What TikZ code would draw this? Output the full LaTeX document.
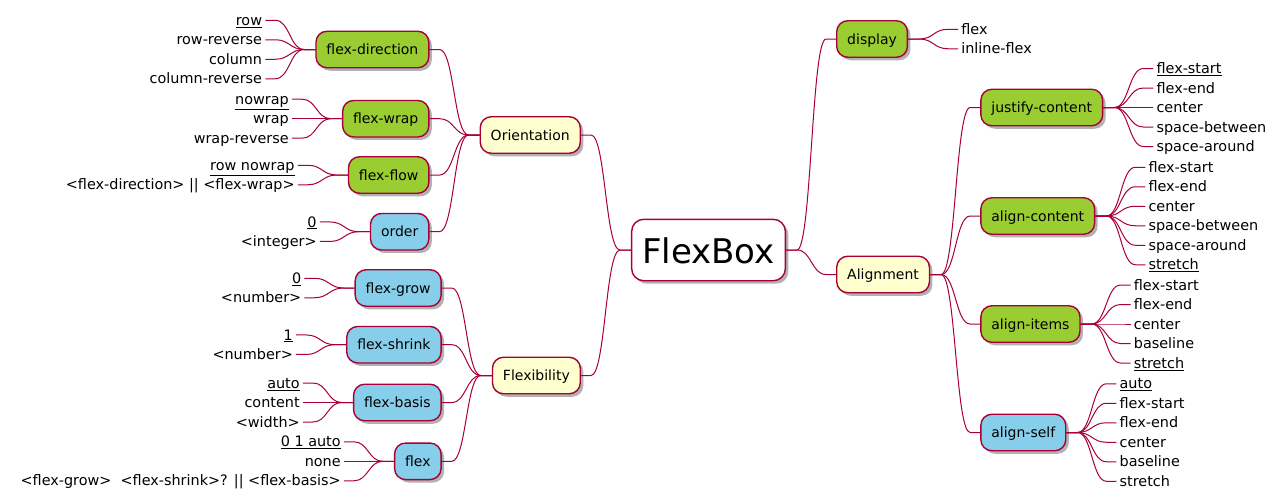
\documentclass[tikz,border=0pt]{standalone}
\usepackage{fontspec}
\setmainfont{DejaVu Sans}
\usetikzlibrary{calc,shadows}
\definecolor{lineRed}{HTML}{A80036}
\definecolor{noteYellow}{HTML}{FEFECE}
\definecolor{propGreen}{HTML}{9ACD32}
\definecolor{propBlue}{HTML}{87CEEB}
\tikzset{
  box/.style={draw=lineRed, line width=1.4pt, rounded corners=11pt, inner xsep=10.5pt, inner ysep=0pt,
    minimum height=36.5pt, text height=10.5pt, text depth=0pt, font=\fontsize{14}{16}\selectfont,
    drop shadow={shadow xshift=3pt, shadow yshift=-3pt, opacity=0.3, fill=black}},
  rootbox/.style={box, fill=white, rounded corners=12pt, minimum width=150pt, minimum height=61.4pt,
    text height=27pt, font=\fontsize{34}{40}\selectfont},
  grpbox/.style={box, fill=noteYellow},
  conbox/.style={box, fill=propGreen},
  itembox/.style={box, fill=propBlue},
  leaf/.style={inner xsep=3pt, inner ysep=0pt, text height=10.2pt, text depth=0pt, font=\fontsize{14.4}{16}\selectfont},
  link/.style={draw=lineRed, line width=1pt},
}
\def\gap{50}
\def\dy{19.5}
\newcommand\linkL[2]{\draw[link] (#1.west) -- ++(-11,0) .. controls +(-14.5,0) and +(14.5,0) .. ($(#2.east)+(10,0)$) -- (#2.east);}
\newcommand\linkR[2]{\draw[link] (#1.east) -- ++(11,0) .. controls +(14.5,0) and +(-14.5,0) .. ($(#2.west)+(-10,0)$) -- (#2.west);}
\newcommand\leavesL[3]{\foreach \txt [count=\i] in {#3}{
    \node[leaf, anchor=east] (#1-\i) at ($(#1.west)+(-\gap,{(\i-1-(#2-1)/2)*\dy})$) {\txt};
    \linkL{#1}{#1-\i}}}
\newcommand\leavesR[3]{\foreach \txt [count=\i] in {#3}{
    \node[leaf, anchor=west] (#1-\i) at ($(#1.east)+(\gap,{(\i-1-(#2-1)/2)*\dy})$) {\txt};
    \linkR{#1}{#1-\i}}}

\begin{document}
\begin{tikzpicture}[x=1pt,y=-1pt]
	%%%%% START %%%%%
	\useasboundingbox (0,0) rectangle (1275,499);
	
	\node[rootbox] (root) at (708.5,250) {FlexBox};
	
	%% right side
	\node[conbox, anchor=west] (display) at ($(root.east)+(\gap,-211)$) {display};
	\node[grpbox, anchor=west] (align) at ($(root.east)+(\gap,24.5)$) {Alignment};
	\node[conbox, anchor=west] (justify) at ($(align.east)+(\gap,-167)$) {justify-content};
	\node[conbox, anchor=west] (aligncontent) at ($(align.east)+(\gap,-58.5)$) {align-content};
	\node[conbox, anchor=west] (alignitems) at ($(align.east)+(\gap,49.5)$) {align-items};
	\node[itembox, anchor=west] (alignself) at ($(align.east)+(\gap,158)$) {align-self};
	
	\linkR{root}{display}
	\linkR{root}{align}
	\linkR{align}{justify}
	\linkR{align}{aligncontent}
	\linkR{align}{alignitems}
	\linkR{align}{alignself}
	
	\leavesR{display}{2}{flex,inline-flex}
	\leavesR{justify}{5}{\underline{flex-start},flex-end,center,space-between,space-around}
	\leavesR{aligncontent}{6}{flex-start,flex-end,center,space-between,space-around,\underline{stretch}}
	\leavesR{alignitems}{5}{flex-start,flex-end,center,baseline,\underline{stretch}}
	\leavesR{alignself}{6}{\underline{auto},flex-start,flex-end,center,baseline,stretch}
	
	%% left side
	\node[grpbox, anchor=east] (orient) at ($(root.west)+(-\gap,-115)$) {Orientation};
	\node[grpbox, anchor=east] (flexi) at ($(root.west)+(-\gap,125.5)$) {Flexibility};
	\node[conbox, anchor=east] (direction) at ($(orient.west)+(-\gap,-85.5)$) {flex-direction};
	\node[conbox, anchor=east] (wrap) at ($(orient.west)+(-\gap,-16.3)$) {flex-wrap};
	\node[conbox, anchor=east] (flow) at ($(orient.west)+(-\gap,40)$) {flex-flow};
	\node[itembox, anchor=east] (order) at ($(orient.west)+(-\gap,96.7)$) {order};
	\node[itembox, anchor=east] (grow) at ($(flexi.west)+(-\gap,-87.5)$) {flex-grow};
	\node[itembox, anchor=east] (shrink) at ($(flexi.west)+(-\gap,-30.8)$) {flex-shrink};
	\node[itembox, anchor=east] (basis) at ($(flexi.west)+(-\gap,27)$) {flex-basis};
	\node[itembox, anchor=east] (flex) at ($(flexi.west)+(-\gap,85.8)$) {flex};
	
	\linkL{root}{orient}
	\linkL{root}{flexi}
	\linkL{orient}{direction}
	\linkL{orient}{wrap}
	\linkL{orient}{flow}
	\linkL{orient}{order}
	\linkL{flexi}{grow}
	\linkL{flexi}{shrink}
	\linkL{flexi}{basis}
	\linkL{flexi}{flex}
	
	\leavesL{direction}{4}{\underline{row},row-reverse,column,column-reverse}
	\leavesL{wrap}{3}{\underline{nowrap},wrap,wrap-reverse}
	\leavesL{flow}{2}{\underline{row nowrap},<flex-direction> || <flex-wrap>}
	\leavesL{order}{2}{\underline{0},<integer>}
	\leavesL{grow}{2}{\underline{0},<number>}
	\leavesL{shrink}{2}{\underline{1},<number>}
	\leavesL{basis}{3}{\underline{auto},content,<width>}
	\leavesL{flex}{3}{\underline{0 1 auto},none,<flex-grow>\ \ <flex-shrink>? || <flex-basis>}
	%%%%% START %%%%%
\end{tikzpicture}
\end{document}
